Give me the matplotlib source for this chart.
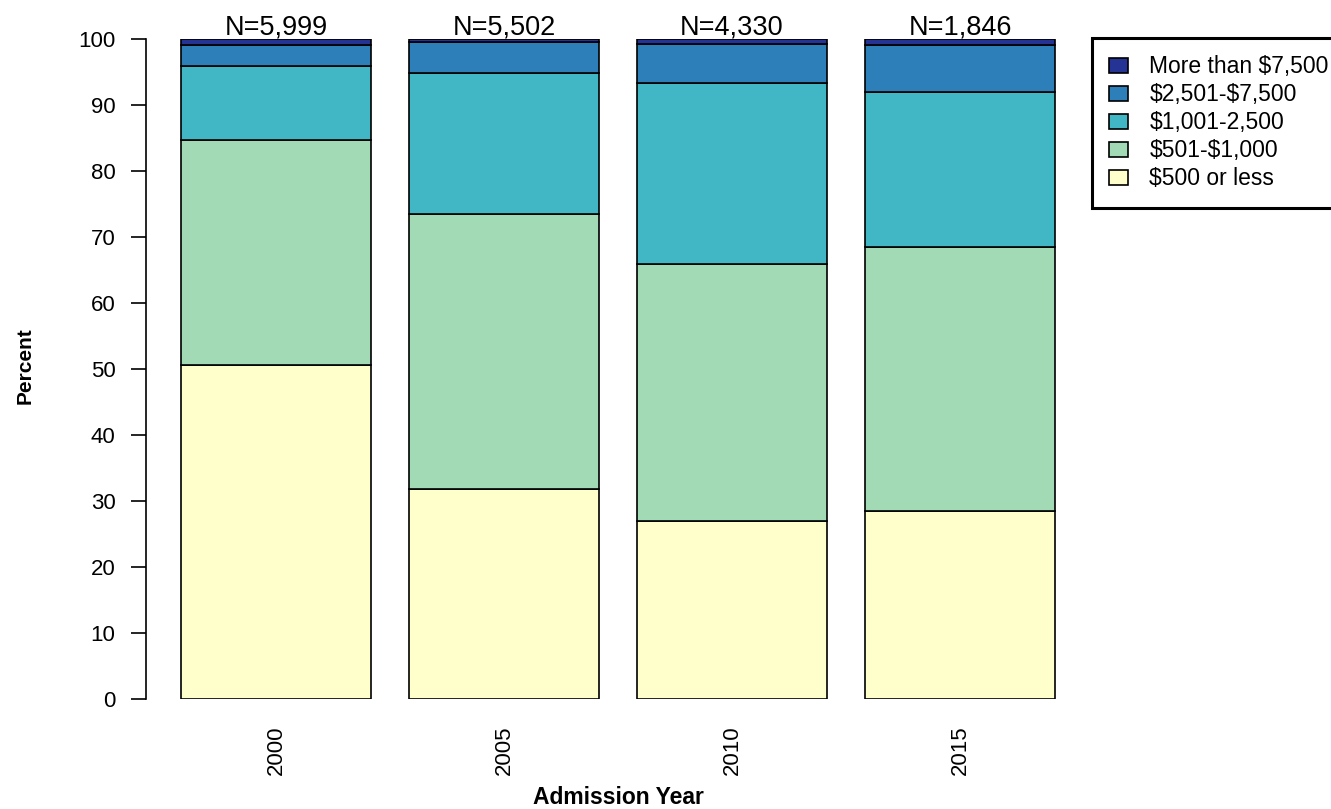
import numpy as np
import matplotlib
matplotlib.use("Agg")
import matplotlib.pyplot as plt

plt.rcParams['font.family'] = ['Liberation Sans', 'DejaVu Sans']

years = ['2000', '2005', '2010', '2015']
counts = ['N=5,999', 'N=5,502', 'N=4,330', 'N=1,846']

# percent of each cost band per admission year (bottom to top)
le_500 = [50.6, 31.8, 27.0, 28.5]
s501_1000 = [34.1, 41.7, 38.9, 40.0]
s1001_2500 = [11.2, 21.3, 27.4, 23.5]
s2501_7500 = [3.2, 4.8, 6.0, 7.1]
gt_7500 = [0.9, 0.4, 0.7, 0.9]

labels = ['$500 or less', '$501-$1,000', '$1,001-2,500', '$2,501-$7,500', 'More than $7,500']
colors = ['#FFFFCC', '#A1DAB4', '#41B6C4', '#2C7FB8', '#253494']
series = [le_500, s501_1000, s1001_2500, s2501_7500, gt_7500]

fig = plt.figure(figsize=(13.31, 8.09), dpi=100)
W, H = 1331, 809
ax = fig.add_axes([146 / W, 1 - 699 / H, (1090 - 146) / W, (699 - 39) / H])

x = np.arange(len(years)) * 1.2 + 0.7
bottom = np.zeros(len(years))
handles = []
for vals, col in zip(series, colors):
    b = ax.bar(x, vals, width=1.0, bottom=bottom, color=col, edgecolor='black',
               linewidth=1.2)
    handles.append(b)
    bottom += np.array(vals)

for xi, n in zip(x, counts):
    ax.annotate(n, (xi, 100), xytext=(0, 5), textcoords='offset pixels',
                ha='center', va='baseline', fontsize=19.5, annotation_clip=False)

ax.set_xlim(0.016, 4.984)
ax.set_ylim(0, 100)
ax.set_yticks(np.arange(0, 101, 10))
ax.set_xticks(x)
ax.set_xticklabels(years, rotation=90, va='top')
for s in ['top', 'right', 'bottom']:
    ax.spines[s].set_visible(False)
ax.spines['left'].set_linewidth(1.2)
ax.tick_params(axis='y', length=11, width=1.2, pad=11, labelsize=16)
ax.tick_params(axis='x', length=0, pad=19, labelsize=16)

fig.text(618 / W, 1 - 797 / H, 'Admission Year', ha='center', va='center',
         fontsize=16.5, fontweight='bold')
fig.text(25 / W, 1 - 366 / H, 'Percent', ha='center', va='center',
         rotation=90, fontsize=15, fontweight='bold')

leg_labels = [l.replace('$', r'\$') for l in labels[::-1]]
leg = fig.legend(handles[::-1], leg_labels, loc='upper left',
                 bbox_to_anchor=(1092 / W, 1 - 38 / H), fontsize=16.5,
                 frameon=True, fancybox=False, handlelength=0.8,
                 handleheight=0.62, handletextpad=0.95, labelspacing=0.22,
                 borderpad=0.75, borderaxespad=0)
leg.get_frame().set_edgecolor('black')
leg.get_frame().set_linewidth(2.2)
leg.get_frame().set_alpha(1)

fig.savefig('out.png', dpi=100)
